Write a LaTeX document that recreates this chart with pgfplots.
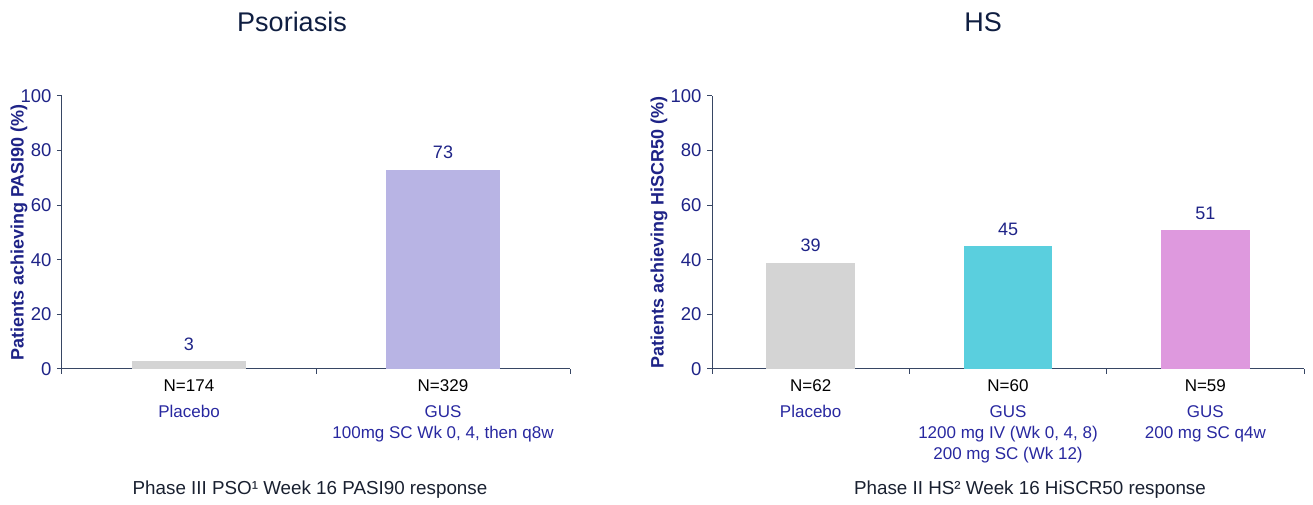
\documentclass[border=0pt]{standalone}
\usepackage{fontspec}
\setmainfont{Liberation Sans}
\usepackage{pgfplots}
\pgfplotsset{compat=1.18}

\definecolor{navy}{RGB}{30,35,135}
\definecolor{catblue}{RGB}{40,40,160}
\definecolor{axiscol}{RGB}{55,70,100}
\definecolor{titlecol}{RGB}{15,30,65}
\definecolor{capcol}{RGB}{25,32,48}
\definecolor{barGray}{RGB}{212,212,212}
\definecolor{barLav}{RGB}{184,180,228}
\definecolor{barCyan}{RGB}{90,207,222}
\definecolor{barPink}{RGB}{222,153,222}

\pgfplotsset{
  panel/.style={
    scale only axis, height=273pt,
    ymin=0, ymax=100,
    axis x line=bottom, axis y line=left,
    axis line style={axiscol, line width=1pt, -},
    tick align=outside,
    ytick={0,20,...,100},
    major tick length=4pt,
    tick style={axiscol, line width=1pt},
    yticklabel style={font=\fontsize{18.5}{18.5}\selectfont, text=navy, xshift=-2pt},
    /pgf/number format/assume math mode=true,
    xticklabels={},
    extra x tick style={major tick length=0pt},
    extra x tick labels={},
    xticklabel style={align=center, font=\fontsize{17}{21}\selectfont, text=black, yshift=-7.5pt},
    ylabel style={font=\bfseries\fontsize{18}{18}\selectfont, text=navy, anchor=center},
    ybar, bar width=0.45, bar shift=0pt,
    every axis plot/.append style={draw=none},
    nodes near coords,
    nodes near coords style={font=\fontsize{18}{18}\selectfont, text=navy, yshift=7pt},
    clip=false,
  }
}

\begin{document}
\begin{tikzpicture}[x=1pt,y=1pt]
\useasboundingbox (0,0) rectangle (1313,505);

% Psoriasis panel
\begin{axis}[panel, width=508pt,
  at={(62pt,136pt)}, anchor=south west,
  xmin=-0.5, xmax=1.5,
  xtick={-0.5,0.5,1.5},
  major tick length=5pt,
  extra x ticks={0,1},
  extra x tick labels={
    {N=174\\[5pt]\textcolor{catblue}{Placebo}},
    {N=329\\[5pt]\textcolor{catblue}{GUS}\\\textcolor{catblue}{100mg SC Wk 0, 4, then q8w}}},
  ylabel={Patients achieving PASI90 (\%)},
  ylabel style={at={(axis description cs:-0.0846,0.5)}},
]
\addplot[fill=barGray] coordinates {(0,3)};
\addplot[fill=barLav] coordinates {(1,73)};
\end{axis}

% HS panel
\begin{axis}[panel, width=592pt,
  at={(712pt,136pt)}, anchor=south west,
  xmin=-0.5, xmax=2.5,
  xtick={-0.5,0.5,1.5,2.5},
  major tick length=5pt,
  extra x ticks={0,1,2},
  extra x tick labels={
    {N=62\\[5pt]\textcolor{catblue}{Placebo}},
    {N=60\\[5pt]\textcolor{catblue}{GUS}\\\textcolor{catblue}{1200 mg IV (Wk 0, 4, 8)}\\\textcolor{catblue}{200 mg SC (Wk 12)}},
    {N=59\\[5pt]\textcolor{catblue}{GUS}\\\textcolor{catblue}{200 mg SC q4w}}},
  ylabel={Patients achieving HiSCR50 (\%)},
  ylabel style={at={(axis description cs:-0.0895,0.5)}},
]
\addplot[fill=barGray] coordinates {(0,39)};
\addplot[fill=barCyan] coordinates {(1,45)};
\addplot[fill=barPink] coordinates {(2,51)};
\end{axis}

% panel titles and captions
\node[anchor=base, font=\fontsize{27}{27}\selectfont, text=titlecol] at (292,473) {Psoriasis};
\node[anchor=base, font=\fontsize{27}{27}\selectfont, text=titlecol] at (983,473) {HS};
\node[anchor=base, font=\fontsize{18.8}{18.8}\selectfont, text=capcol] at (310,10) {Phase III PSO¹ Week 16 PASI90 response};
\node[anchor=base, font=\fontsize{18.8}{18.8}\selectfont, text=capcol] at (1030,10) {Phase II HS² Week 16 HiSCR50 response};
\end{tikzpicture}
\end{document}
